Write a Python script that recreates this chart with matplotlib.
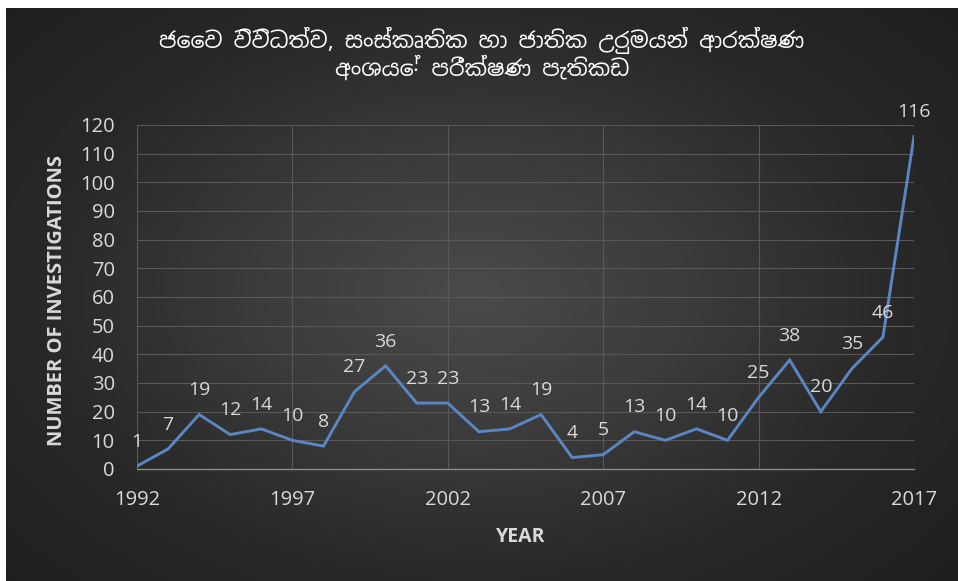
import numpy as np
import matplotlib
matplotlib.use("Agg")
import matplotlib.pyplot as plt
from matplotlib.colors import LinearSegmentedColormap

# data
years = list(range(1992, 2018))
investigations = [1, 7, 19, 12, 14, 10, 8, 27, 36, 23, 23, 13, 14, 19,
                  4, 5, 13, 10, 14, 10, 25, 38, 20, 35, 46, 116]
x_ticks = [1992, 1997, 2002, 2007, 2012, 2017]
y_ticks = list(range(0, 121, 10))

title = "ජෛව විවිධත්ව, සංස්කෘතික හා ජාතික උරුමයන් ආරක්ෂණ\nඅංශයේ පරීක්ෂණ පැතිකඩ"
x_label = "YEAR"
y_label = "NUMBER OF INVESTIGATIONS"

font = ["Open Sans", "DejaVu Sans"]
title_font = ["Noto Sans Sinhala", "Noto Sans", "DejaVu Sans"]
text_col = "#d9d9d9"
line_col = "#5a86c2"

W, H = 958, 581
fig = plt.figure(figsize=(W / 100, H / 100), dpi=100, facecolor="white")

# dark radial gradient background (white strip top and left as in the source)
bg = fig.add_axes([6 / W, 0, 1 - 6 / W, 1 - 8 / H])
bg.set_axis_off()
gx, gy = np.meshgrid(np.linspace(-1, 1, 400), np.linspace(-1, 1, 300))
r = np.sqrt(((gx + 0.02) / 1.0) ** 2 + ((gy - 0.0) / 1.1) ** 2)
cmap = LinearSegmentedColormap.from_list("bg", ["#4a4a4a", "#3b3b3b", "#282828", "#1f1f1f"])
bg.imshow(np.clip(r, 0, 1.4), cmap=cmap, aspect="auto", extent=[0, 1, 0, 1])

ax = fig.add_axes([137 / W, 1 - 469 / H, (914 - 137) / W, (469 - 125) / H])
ax.patch.set_alpha(0)
ax.plot(years, investigations, color=line_col, linewidth=2.1, solid_joinstyle="miter", zorder=3)

for yr, v in zip(years, investigations):
    ax.annotate(str(v), (yr, v), xytext=(0, 11), textcoords="offset points",
                ha="center", va="bottom", color=text_col, fontsize=14, family=font)

ax.set_xlim(1992, 2017)
ax.set_ylim(0, 120)
ax.set_xticks(x_ticks)
ax.set_yticks(y_ticks)
ax.grid(True, color="#585858", linewidth=0.8)
ax.set_axisbelow(True)
for s in ["top", "right", "left"]:
    ax.spines[s].set_visible(False)
ax.spines["bottom"].set_color("#8a8a8a")
ax.spines["bottom"].set_linewidth(1.0)
ax.tick_params(length=0, colors=text_col, labelsize=14.5)
ax.tick_params(axis="y", pad=16)
ax.tick_params(axis="x", pad=15)
for lab in ax.get_xticklabels() + ax.get_yticklabels():
    lab.set_family(font)

fig.text(57 / W, 1 - 300 / H, y_label, rotation=90, ha="center", va="center",
         color=text_col, fontsize=14.5, fontweight="bold", family=font)
fig.text(521 / W, 1 - 537 / H, x_label, ha="center", va="center",
         color=text_col, fontsize=14, fontweight="bold", family=font)
fig.text(482 / W, 1 - 54 / H, title, ha="center", va="center", color="white",
         fontsize=16, fontweight="bold", family=title_font, linespacing=1.05)

fig.savefig("out.png", dpi=100, facecolor=fig.get_facecolor())
